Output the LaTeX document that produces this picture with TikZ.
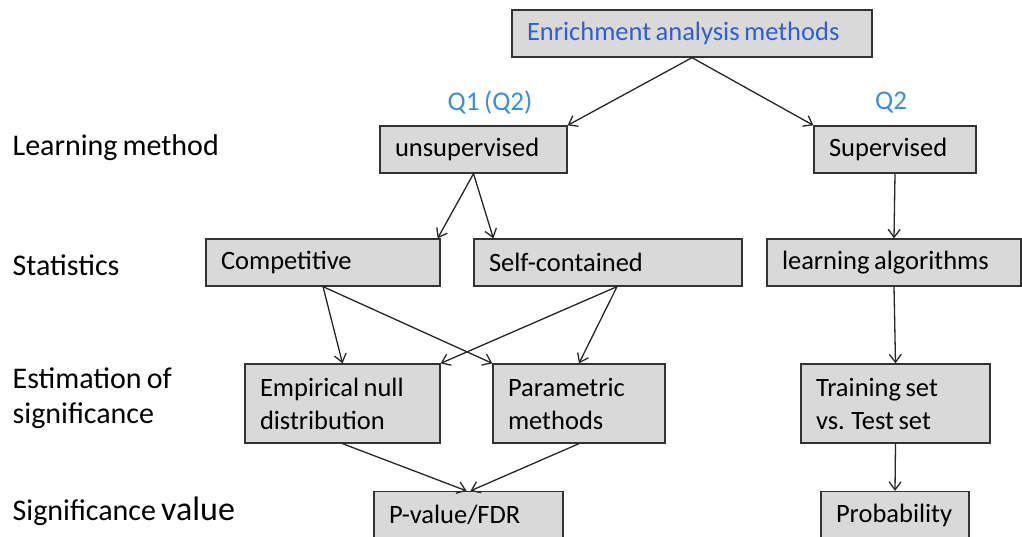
\documentclass[tikz,border=0pt]{standalone}
\usepackage{fontspec}
\setmainfont{Carlito}[WordSpace=0.75]
\usetikzlibrary{arrows.meta}
\definecolor{boxgray}{HTML}{D9D9D9}
\definecolor{titleblue}{HTML}{2E5FCF}
\definecolor{qblue}{HTML}{3B8ED6}
\tikzstyle{stage} = [draw=black!80, fill=boxgray, rectangle, align=flush left, inner xsep=15pt, inner ysep=0pt, minimum height=47pt, font=\fontsize{26.5}{33}\selectfont]
\tikzstyle{level} = [anchor=west, align=flush left, inner sep=0pt, font=\fontsize{30}{35}\selectfont]
\tikzstyle{question} = [text=qblue, inner sep=0pt, font=\fontsize{27}{30}\selectfont]

\begin{document}
\begin{tikzpicture}[x=1pt, y=-1pt, >={Straight Barb[length=8pt,width=12pt]}, line width=1.3pt, draw=black!85]
    \useasboundingbox (0,0) rectangle (1022,537);

    % level names on the left
    \node [level] (lrn) at (12,148) {Learning method};
    \node [level] (sta) at (12,265) {Statistics};
    \node [level] (est) at (12,398) {Estimation of\\significance};
    \node [level] (sig) at (12,511) {Significance {\fontsize{34}{36}\selectfont value}};

    % the boxes
    \node [stage, text width=330pt, text=titleblue] (enrich) at (692,33.5) {Enrichment analysis methods};
    \node [stage, text width=157pt] (unsup) at (473.5,149.5) {unsupervised};
    \node [stage, text width=132pt] (sup) at (895,149.5) {Supervised};
    \node [stage, text width=204pt] (comp) at (323,262.5) {Competitive};
    \node [stage, text width=238pt] (self) at (608,262.5) {Self-contained};
    \node [stage, text width=224pt] (learn) at (894,262.5) {learning algorithms};
    \node [stage, text width=165pt, minimum height=79pt] (empnull) at (342.5,403.5) {Empirical null\\distribution};
    \node [stage, text width=142pt, minimum height=79pt] (param) at (579,403.5) {Parametric\\methods};
    \node [stage, text width=159pt, minimum height=79pt] (train) at (895.5,403.5) {Training set\\vs. Test set};
    \node [stage, text width=159pt] (pval) at (468.5,515) {P-value/FDR};
    \node [stage, text width=118pt] (prob) at (895,515) {Probability};

    \node [question] (q1) at (490,103) {Q1 (Q2)};
    \node [question] (q2) at (891,103) {Q2};

    % connections
    \draw [->] (enrich.south) -- (unsup.north east);
    \draw [->] (enrich.south) -- (sup.north west);
    \draw [->] (unsup.south) -- ([xshift=-3pt]comp.north east);
    \draw [->] (unsup.south) -- ([xshift=20pt]self.north west);
    \draw [->] (sup.south) -- (learn.north);
    \draw [->] (comp.south) -- (empnull.north);
    \draw [->] (comp.south) -- (param.north west);
    \draw [->] ([xshift=9pt]self.south) -- (empnull.north east);
    \draw [->] ([xshift=9pt]self.south) -- (param.north);
    \draw [->] (learn.south) -- (train.north);
    \draw [->] (empnull.south) -- ([xshift=-2pt]pval.north);
    \draw [->] (param.south) -- ([xshift=2pt]pval.north);
    \draw [->] (train.south) -- (prob.north);
\end{tikzpicture}
\end{document}
